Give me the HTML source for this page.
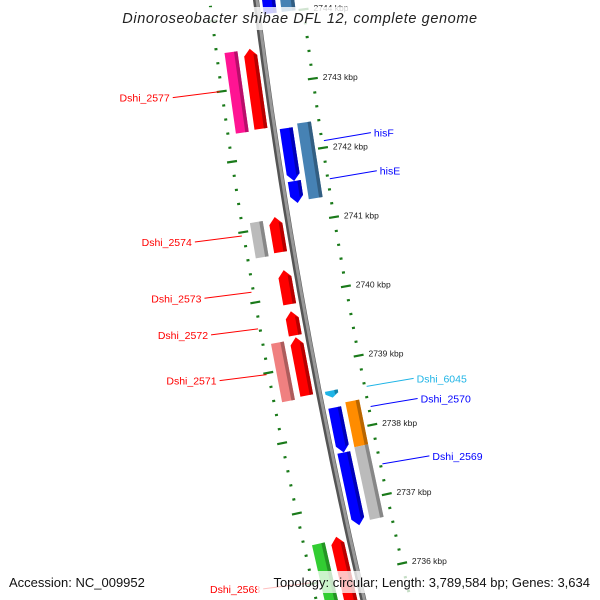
<!DOCTYPE html>
<html><head><meta charset="utf-8"><style>
html,body{margin:0;padding:0;background:#fff;}
svg{display:block;font-family:"Liberation Sans",sans-serif;}
</style></head><body>
<svg id="map" width="600" height="600" viewBox="0 0 600 600" xmlns="http://www.w3.org/2000/svg">
<g id="ticks"></g>
<g id="backbone"></g>
<g id="features"></g>
<g id="labels"></g>
<rect x="124" y="7" width="352" height="23" fill="#fff" fill-opacity="0.8"/>
<text x="300" y="23" text-anchor="middle" font-size="14.5" font-style="italic" letter-spacing="0.6" fill="#222">Dinoroseobacter shibae DFL 12, complete genome</text>
<rect x="5" y="571" width="142" height="22" fill="#fff" fill-opacity="0.75"/>
<rect x="257" y="571" width="338" height="22" fill="#fff" fill-opacity="0.75"/>
<text x="9" y="587" font-size="13" fill="#111">Accession: NC_009952</text>
<text x="590" y="587" text-anchor="end" font-size="13" fill="#111">Topology: circular; Length: 3,789,584 bp; Genes: 3,634</text>
</svg>
<script>
// data (bp)
const tickKbp = [2745, 2744, 2743, 2742, 2741, 2740, 2739, 2738, 2737, 2736, 2735];
const featNames = ["top-blue","top-steel","pink-2577","Dshi_2577","hisF","hisE","steel-his","gray-2574","Dshi_2574","Dshi_2573","Dshi_2572","pink-2571","Dshi_2571","Dshi_6045","Dshi_2570","orange-2570","Dshi_2569","gray-2569","green-2568","Dshi_2568"];
const featStart = [2744361,2744361,2743530,2743544,2742355,2741596,2742398,2741109,2741138,2740378,2739791,2739390,2739418,2738587,2738344,2738387,2737699,2737742,2736524,2736567];
const featEnd   = [2744003,2744003,2742384,2742398,2741596,2741281,2741309,2740607,2740635,2739891,2739447,2738559,2738587,2738487,2737699,2737742,2736653,2736696,2735335,2735335];
const featTrack = ["f1","f2","r2","r1","f1","f1","f2","r2","r1","r1","r1","r2","r1","f1","f1","f2","f1","f2","r2","r1"];
const featColor = ["#0000ff","#4682b4","#ff1493","#ff0000","#0000ff","#0000ff","#4682b4","#bbbbbb","#ff0000","#ff0000","#ff0000","#f08080","#ff0000","#1eb4e6","#0000ff","#ff8c00","#0000ff","#bbbbbb","#32cd32","#ff0000"];
const featArrow = [0,0,0,1,1,1,0,0,1,1,1,0,1,1,1,0,1,0,0,1];
const geneLabels = ["Dshi_2577","hisF","hisE","Dshi_2574","Dshi_2573","Dshi_2572","Dshi_2571","Dshi_6045","Dshi_2570","Dshi_2569","Dshi_2568"];
const geneLabelBp = [2743000,2742100,2741550,2740950,2740150,2739630,2738980,2738550,2738260,2737430,2736020];
const geneLabelSide = [-1,1,1,-1,-1,-1,-1,1,1,1,-1];
const geneLabelColor = ["#ff0000","#0000ff","#0000ff","#ff0000","#ff0000","#ff0000","#ff0000","#1eb4e6","#0000ff","#0000ff","#ff0000"];

const NS="http://www.w3.org/2000/svg";
const PX_PER_BP = 0.0698;
function yOf(bp){ return 85 + (2743000 - bp) * PX_PER_BP; }
function xb(y){ return 256 + 0.125*y + 9e-5*y*y; }
function P(y,u){ const s=0.125+1.8e-4*y; const c=1/Math.sqrt(1+s*s), sn=s*c; return [xb(y)+u*c, y-u*sn]; }
const tracks = {f1:[6,19], f2:[24,38], r1:[-19,-6], r2:[-38,-25]};
function el(tag, attrs, parent){ const e=document.createElementNS(NS,tag); for(const k in attrs) e.setAttribute(k,attrs[k]); parent.appendChild(e); return e; }
function pts(a){ return a.map(p=>p[0].toFixed(1)+","+p[1].toFixed(1)).join(" "); }
function darken(hex,f){ const n=parseInt(hex.slice(1),16); const r=(n>>16)&255,g=(n>>8)&255,b=n&255; return "rgb("+Math.round(r*f)+","+Math.round(g*f)+","+Math.round(b*f)+")"; }

// backbone
const bb=document.getElementById("backbone");
let d="";
for(let y=-10;y<=610;y+=10){ const p=P(y,0); d+=(y===-10?"M":"L")+p[0].toFixed(1)+" "+p[1].toFixed(1)+" "; }
const b1=el("path",{d:d,fill:"none",stroke:"#555",["stroke-width"]:6},bb);


const b2=el("path",{d:d,fill:"none",stroke:"#999",["stroke-width"]:3,transform:"translate(1,0)"},bb);



// ticks
const tg=document.getElementById("ticks");
for(let i=0;i<tickKbp.length-1;i++){
  for(let j=0;j<5;j++){
    const bp = tickKbp[i]*1000 - j*200;
    const y = yOf(bp);
    if(y<-20||y>620) continue;
    const len = j===0?5:1.5;
    [-46,46].forEach(u=>{
      const a=P(y,u-len), b=P(y,u+len);
      const t=el("line",{x1:a[0],y1:a[1],x2:b[0],y2:b[1],stroke:"#1a7a1a",["stroke-width"]:2.2},tg);
      
      
    });
    if(j===0){
      const p=P(y,56);
      const tx=el("text",{x:p[0],y:p[1]+3,["font-size"]:8.5,fill:"#222"},tg);
      tx.textContent=tickKbp[i]+" kbp";
      
      
    }
  }
}

// features
const fg=document.getElementById("features");
for(let i=0;i<featNames.length;i++){
  const y1=yOf(featStart[i]), y2=yOf(featEnd[i]);
  const tr=tracks[featTrack[i]], a=tr[0], b=tr[1], m=(a+b)/2;
  const fwd = featTrack[i][0]==="f";
  let poly;
  if(featArrow[i]){
    const h=Math.min(7,(y2-y1)*0.6);
    if(fwd) poly=[P(y1,a),P(y1,b),P(y2-h,b),P(y2,m),P(y2-h,a)];
    else poly=[P(y1,m),P(y1+h,b),P(y2,b),P(y2,a),P(y1+h,a)];
  } else poly=[P(y1,a),P(y1,b),P(y2,b),P(y2,a)];
  const g=el("g",{},fg);
  
  
  el("polygon",{points:pts(poly),fill:featColor[i]},g);
  // dark shading strip on right edge
  const s0=b-3.5;
  let strip;
  if(featArrow[i]){
    const h=Math.min(7,(y2-y1)*0.6);
    if(fwd) strip=[P(y1,s0),P(y1,b),P(y2-h,b),P(y2-h+1.5,s0)];
    else strip=[P(y1+h-1.5,s0),P(y1+h,b),P(y2,b),P(y2,s0)];
  } else strip=[P(y1,s0),P(y1,b),P(y2,b),P(y2,s0)];
  el("polygon",{points:pts(strip),fill:darken(featColor[i],0.72)},g);
}

// gene labels
const lg=document.getElementById("labels");
for(let i=0;i<geneLabels.length;i++){
  const y=yOf(geneLabelBp[i]);
  const side=geneLabelSide[i];
  const p0=P(y, side*48);
  const x1=p0[0]+side*47, y1=p0[1]+side*(-1)*(-7)*(side<0?1:1);
  const ly = side<0 ? p0[1]+6 : p0[1]-8;
  const ln=el("line",{x1:p0[0],y1:p0[1],x2:x1,y2:ly,stroke:geneLabelColor[i],["stroke-width"]:1},lg);
  
  
  const t=el("text",{x:x1+side*3,y:ly+4,["font-size"]:10.5,fill:geneLabelColor[i],["text-anchor"]:side<0?"end":"start"},lg);
  t.textContent=geneLabels[i];
  
  
}
</script>
</body></html>
